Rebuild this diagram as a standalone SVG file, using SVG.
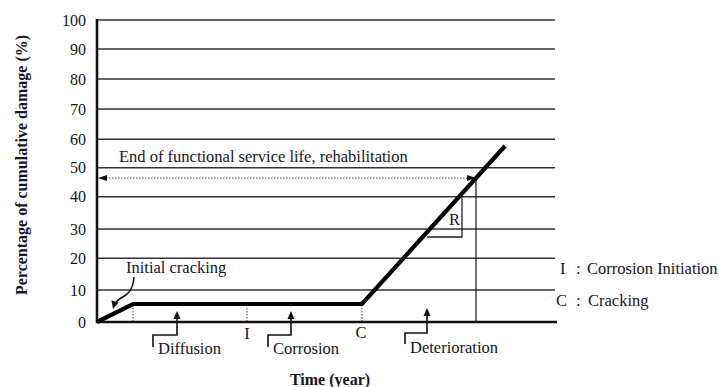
<svg xmlns="http://www.w3.org/2000/svg" width="719" height="387" viewBox="0 0 719 387">
<defs>
<style>
.t{font-family:"Liberation Serif","Times New Roman",serif;font-size:16.5px;fill:#15152a}
.tk{text-anchor:end;font-size:16px}
.b{font-weight:bold;font-size:16px}
.grid{stroke:#333;stroke-width:1.4;fill:none}
.axis{stroke:#111;stroke-width:2.6;fill:none}
.thin{stroke:#222;stroke-width:1.3;fill:none}
.dot{stroke:#444;stroke-width:1;stroke-dasharray:1.5 1.5;fill:none}
.curve{stroke:#000;stroke-width:4.2;fill:none;stroke-linejoin:miter}
.ptr{stroke:#111;stroke-width:1.6;fill:none}
</style>
</defs>
<rect width="719" height="387" fill="#fff"/>
<g id="grid">
<line class="grid" x1="97" y1="20" x2="555" y2="20"/>
<line class="grid" x1="97" y1="49" x2="555" y2="49"/>
<line class="grid" x1="97" y1="79" x2="555" y2="79"/>
<line class="grid" x1="97" y1="109" x2="555" y2="109"/>
<line class="grid" x1="97" y1="139.3" x2="555" y2="139.3"/>
<line class="grid" x1="97" y1="167.7" x2="555" y2="167.7"/>
<line class="grid" x1="97" y1="196.7" x2="555" y2="196.7"/>
<line class="grid" x1="97" y1="229" x2="555" y2="229"/>
<line class="grid" x1="97" y1="258.3" x2="555" y2="258.3"/>
<line class="grid" x1="97" y1="290" x2="555" y2="290"/>
</g>
<g id="axes">
<line class="axis" x1="97" y1="19" x2="97" y2="323"/>
<line class="axis" x1="96" y1="322" x2="557" y2="322"/>
</g>
<g id="ticks">
<text class="t tk" x="86" y="25.5">100</text>
<text class="t tk" x="86" y="54.5">90</text>
<text class="t tk" x="86" y="84.5">80</text>
<text class="t tk" x="86" y="114.5">70</text>
<text class="t tk" x="86" y="144.8">60</text>
<text class="t tk" x="86" y="173.2">50</text>
<text class="t tk" x="86" y="202.2">40</text>
<text class="t tk" x="86" y="234.5">30</text>
<text class="t tk" x="86" y="263.8">20</text>
<text class="t tk" x="86" y="295.5">10</text>
<text class="t tk" x="86" y="327.5">0</text>
</g>
<g id="axis-titles">
<text class="t b" x="330" y="385" text-anchor="middle">Time (year)</text>
<text class="t b" transform="translate(27,165) rotate(-90)" text-anchor="middle">Percentage of cumulative damage (%)</text>
</g>
<g id="connectors">
<line class="dot" x1="133" y1="305" x2="133" y2="321"/>
<line class="dot" x1="247" y1="305" x2="247" y2="321"/>
<line class="dot" x1="362" y1="305" x2="362" y2="321"/>
<line class="dot" x1="100" y1="178" x2="473" y2="178"/>
<path d="M98,178 L107,175 L107,181 Z" fill="#111"/>
<path d="M476,178 L467,175 L467,181 Z" fill="#111"/>
<line class="thin" x1="476" y1="178" x2="476" y2="322"/>
<polyline class="thin" points="427,237 462,237 462,196"/>
<polyline class="ptr" points="153,347 153,335 177,335 177,318"/>
<path d="M177,311 L173.5,319 L180.5,319 Z" fill="#111"/>
<polyline class="ptr" points="268,347 268,335 291,335 291,318"/>
<path d="M291,311 L287.5,319 L294.5,319 Z" fill="#111"/>
<polyline class="ptr" points="405,344 405,333 427,333 427,315"/>
<path d="M427,308 L423.5,316 L430.5,316 Z" fill="#111"/>
<path class="ptr" d="M134,277 C133,290 128,295 121,298 C117,300 116,302 115,304"/>
<path d="M113,309 L111.5,300.5 L118.5,302.5 Z" fill="#111"/>
</g>
<g id="curve">
<polyline class="curve" points="97,322 133,304 362,304 505,146"/>
</g>
<g id="labels">
<text class="t" x="119" y="162">End of functional service life, rehabilitation</text>
<text class="t" x="126" y="273">Initial cracking</text>
<text class="t" x="247" y="339" text-anchor="middle">I</text>
<text class="t" x="361" y="338" text-anchor="middle">C</text>
<text class="t" x="158" y="354">Diffusion</text>
<text class="t" x="273" y="354">Corrosion</text>
<text class="t" x="410" y="353">Deterioration</text>
<text class="t" x="449" y="225">R</text>
<text class="t" x="560" y="274">I</text>
<text class="t" x="576" y="274">:</text>
<text class="t" x="587" y="274">Corrosion Initiation</text>
<text class="t" x="556" y="306">C</text>
<text class="t" x="576" y="306">:</text>
<text class="t" x="588" y="306">Cracking</text>
</g>
</svg>
